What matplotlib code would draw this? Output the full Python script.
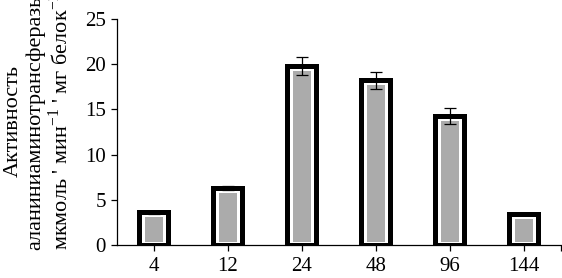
import matplotlib
matplotlib.use('Agg')
import numpy as np
from matplotlib import pyplot as plt

# данные
hours = ['4', '12', '24', '48', '96', '144']
activity = [3.6, 6.3, 19.8, 18.2, 14.3, 3.45]
errors = [0.15, 0.2, 1.0, 0.9, 0.9, 0.0]

plt.rcParams['font.family'] = ['Liberation Serif', 'DejaVu Serif']
plt.rcParams['mathtext.fontset'] = 'custom'
plt.rcParams['mathtext.rm'] = 'Liberation Serif'

fig = plt.figure(figsize=(5.62, 2.78), dpi=100)
ax = fig.add_axes([0.208, 0.1187, 0.79, 0.813])

x = np.arange(len(hours))
# внешний контур столбика
ax.bar(x, activity, width=0.39, color='white', edgecolor='black', linewidth=3.6, zorder=2)
# серая заливка внутри
inner = [v - 0.55 for v in activity]
ax.bar(x, [v - 0.3 for v in inner], width=0.25, bottom=0.3, color='#ababab',
       edgecolor='none', zorder=3)
ax.errorbar(x, activity, yerr=errors, fmt='none', ecolor='black', elinewidth=0.9,
            capsize=4, capthick=0.9, zorder=4)

ax.set_xlim(-0.5, 5.5)
ax.set_ylim(0, 25)
ax.set_yticks([0, 5, 10, 15, 20, 25])
ax.set_xticks(x)
ax.set_xticklabels(hours)
ax.set_xticks([5.5], minor=True)
for s in ['top', 'right']:
    ax.spines[s].set_visible(False)
for s in ['left', 'bottom']:
    ax.spines[s].set_linewidth(0.9)
ax.tick_params(axis='both', which='both', labelsize=15, width=0.9, length=4.5, direction='out')
ax.tick_params(axis='x', pad=4)

fig.text(0.068, 1 - 121 / 278,
         'Активность\nаланиниаминотрансферазы\nмкмоль \' мин$^{-1}$ \' мг белок$^{-1}$',
         rotation=90, ha='center', va='center', multialignment='center',
         fontsize=16, linespacing=1.15)

plt.savefig('out.png', dpi=100)
